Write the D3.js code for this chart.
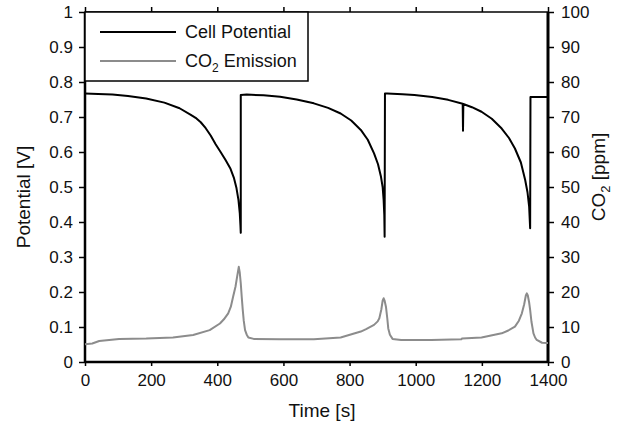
<!DOCTYPE html>
<html>
<head>
<meta charset="utf-8">
<script src="https://cdn.jsdelivr.net/npm/d3@7"></script>
<style>
  body { margin: 0; background: #fff; }
  text { font-family: "Liberation Sans", Arial, sans-serif; fill: #111; }
</style>
</head>
<body>
<div></div>
<script>
// cell potential [V] vs time [s]
var potTime = [0, 40, 83, 130, 185, 240, 286, 320, 337, 350, 365, 380, 395, 410, 425, 440, 450, 458, 464, 468, 470, 471,
    471, 489, 540, 590, 640, 692, 735, 773, 805, 834, 855, 874, 886, 895, 900, 903, 905, 906,
    907, 914, 960, 996, 1050, 1098, 1142, 1143, 1144, 1170, 1199, 1230, 1260, 1282, 1300, 1318, 1331, 1338, 1343, 1346,
    1347, 1400];
var potValue = [0.767, 0.766, 0.764, 0.760, 0.753, 0.741, 0.725, 0.706, 0.696, 0.685, 0.668, 0.647, 0.622, 0.600, 0.577, 0.552, 0.527, 0.497, 0.463, 0.425, 0.390, 0.369,
    0.763, 0.764, 0.762, 0.758, 0.750, 0.739, 0.726, 0.710, 0.690, 0.663, 0.635, 0.596, 0.565, 0.529, 0.500, 0.463, 0.420, 0.358,
    0.767, 0.767, 0.765, 0.763, 0.757, 0.749, 0.738, 0.661, 0.737, 0.728, 0.715, 0.695, 0.667, 0.640, 0.610, 0.570, 0.520, 0.485, 0.444, 0.382,
    0.757, 0.757];

// CO2 emission [ppm] vs time [s]
var co2Time = [0, 22, 43, 103, 185, 266, 327, 377, 408, 420, 433, 441, 448, 455, 460, 465, 468, 471, 474, 477, 480, 484, 489, 494, 510,
    590, 692, 773, 834, 850, 874, 885, 890, 896, 900, 903, 906, 910, 914, 917, 922, 930, 956,
    1047, 1138, 1140, 1199, 1260, 1280, 1300, 1312, 1321, 1328, 1333, 1336, 1339, 1343, 1346, 1350, 1356, 1361, 1366, 1382, 1400];
var co2Value = [5.1, 5.3, 6.0, 6.6, 6.7, 7.0, 7.7, 9.1, 11.0, 12.2, 13.9, 15.8, 18.7, 21.5, 24.4, 27.2, 25.5, 22.5, 18.5, 14.9, 11.8, 9.1, 7.8, 7.0, 6.6,
    6.5, 6.5, 7.0, 8.7, 9.4, 10.6, 11.6, 12.5, 15.0, 17.5, 18.2, 17.5, 15.8, 12.5, 9.6, 7.8, 6.6, 6.3,
    6.3, 6.5, 6.7, 7.0, 8.2, 9.0, 10.1, 11.8, 13.9, 16.5, 19.0, 19.6, 19.0, 17.0, 14.9, 11.5, 8.2, 7.0, 6.3, 5.5, 5.4];

var xTicks = [0, 200, 400, 600, 800, 1000, 1200, 1400];
var leftTicks = [0, 0.1, 0.2, 0.3, 0.4, 0.5, 0.6, 0.7, 0.8, 0.9, 1];
var rightTicks = [0, 10, 20, 30, 40, 50, 60, 70, 80, 90, 100];

var width = 619, height = 427;
var plotLeft = 85, plotRight = 548, plotTop = 12, plotBottom = 362;

var svg = d3.select('div').append('svg')
    .attr('width', width)
    .attr('height', height);

var x = d3.scaleLinear().domain([0, 1400]).range([plotLeft, plotRight]);
var yL = d3.scaleLinear().domain([0, 1]).range([plotBottom, plotTop]);
var yR = d3.scaleLinear().domain([0, 100]).range([plotBottom, plotTop]);

var tickFont = 17;

// bottom axis
var gx = svg.append('g')
    .attr('transform', 'translate(0,' + plotBottom + ')')
    .call(d3.axisBottom(x).tickValues(xTicks).tickSize(4).tickPadding(8).tickFormat(d3.format('d')));
// top border ticks
var gt = svg.append('g')
    .attr('transform', 'translate(0,' + plotTop + ')')
    .call(d3.axisTop(x).tickValues(xTicks).tickSize(5).tickFormat(''));
// left axis
var gl = svg.append('g')
    .attr('transform', 'translate(' + plotLeft + ',0)')
    .call(d3.axisLeft(yL).tickValues(leftTicks).tickSize(6).tickPadding(6).tickFormat(d3.format('')));
// right axis
var gr = svg.append('g')
    .attr('transform', 'translate(' + plotRight + ',0)')
    .call(d3.axisRight(yR).tickValues(rightTicks).tickSize(6).tickPadding(7));

[gx, gt, gl, gr].forEach(function (g) {
    g.selectAll('text').style('font-size', tickFont + 'px');
    g.selectAll('line').attr('stroke', '#000').attr('stroke-width', 1.5);
    g.attr('font-family', null).attr('font-size', null);
});
gx.select('.domain').attr('stroke', '#000').attr('stroke-width', 2.5).attr('d', 'M' + plotLeft + ',0H' + plotRight);
gt.select('.domain').attr('stroke', '#000').attr('stroke-width', 1.5).attr('d', 'M' + plotLeft + ',0H' + plotRight);
gl.select('.domain').attr('stroke', '#000').attr('stroke-width', 2.5).attr('d', 'M0,' + (plotBottom + 1) + 'V' + plotTop);
gr.select('.domain').attr('stroke', '#000').attr('stroke-width', 3).attr('d', 'M0,' + (plotBottom + 1) + 'V' + plotTop);

// lines
var co2Line = d3.line()
    .x(function (d, i) { return x(co2Time[i]); })
    .y(function (d) { return yR(d); });
svg.append('path')
    .attr('d', co2Line(co2Value))
    .attr('fill', 'none')
    .attr('stroke', '#8c8c8c')
    .attr('stroke-width', 2)
    .attr('stroke-linejoin', 'round');

var potLine = d3.line()
    .x(function (d, i) { return x(potTime[i]); })
    .y(function (d) { return yL(d); });
svg.append('path')
    .attr('d', potLine(potValue))
    .attr('fill', 'none')
    .attr('stroke', '#000')
    .attr('stroke-width', 2)
    .attr('stroke-linejoin', 'round');

// legend
var legend = svg.append('g');
legend.append('rect')
    .attr('x', plotLeft).attr('y', plotTop)
    .attr('width', 223).attr('height', 69)
    .attr('fill', '#fff')
    .attr('stroke', '#000')
    .attr('stroke-width', 1.5);
legend.append('line')
    .attr('x1', 100).attr('x2', 176).attr('y1', 32).attr('y2', 32)
    .attr('stroke', '#000').attr('stroke-width', 2);
legend.append('line')
    .attr('x1', 100).attr('x2', 176).attr('y1', 61).attr('y2', 61)
    .attr('stroke', '#8c8c8c').attr('stroke-width', 2);
legend.append('text')
    .attr('x', 185).attr('y', 38)
    .style('font-size', '18px')
    .text('Cell Potential');
var co2Text = legend.append('text')
    .attr('x', 185).attr('y', 67)
    .style('font-size', '18px');
co2Text.append('tspan').text('CO');
co2Text.append('tspan').attr('dy', 5).style('font-size', '12px').text('2');
co2Text.append('tspan').attr('dy', -5).text(' Emission');

// axis titles
svg.append('text')
    .attr('x', 322).attr('y', 417)
    .attr('text-anchor', 'middle')
    .style('font-size', '19px')
    .text('Time [s]');

svg.append('text')
    .attr('transform', 'translate(30,197) rotate(-90)')
    .attr('text-anchor', 'middle')
    .style('font-size', '19px')
    .text('Potential [V]');

var rt = svg.append('text')
    .attr('transform', 'translate(605,177) rotate(-90)')
    .attr('text-anchor', 'middle')
    .style('font-size', '19px');
rt.append('tspan').text('CO');
rt.append('tspan').attr('dy', 5).style('font-size', '13px').text('2');
rt.append('tspan').attr('dy', -5).text(' [ppm]');
</script>
</body>
</html>
